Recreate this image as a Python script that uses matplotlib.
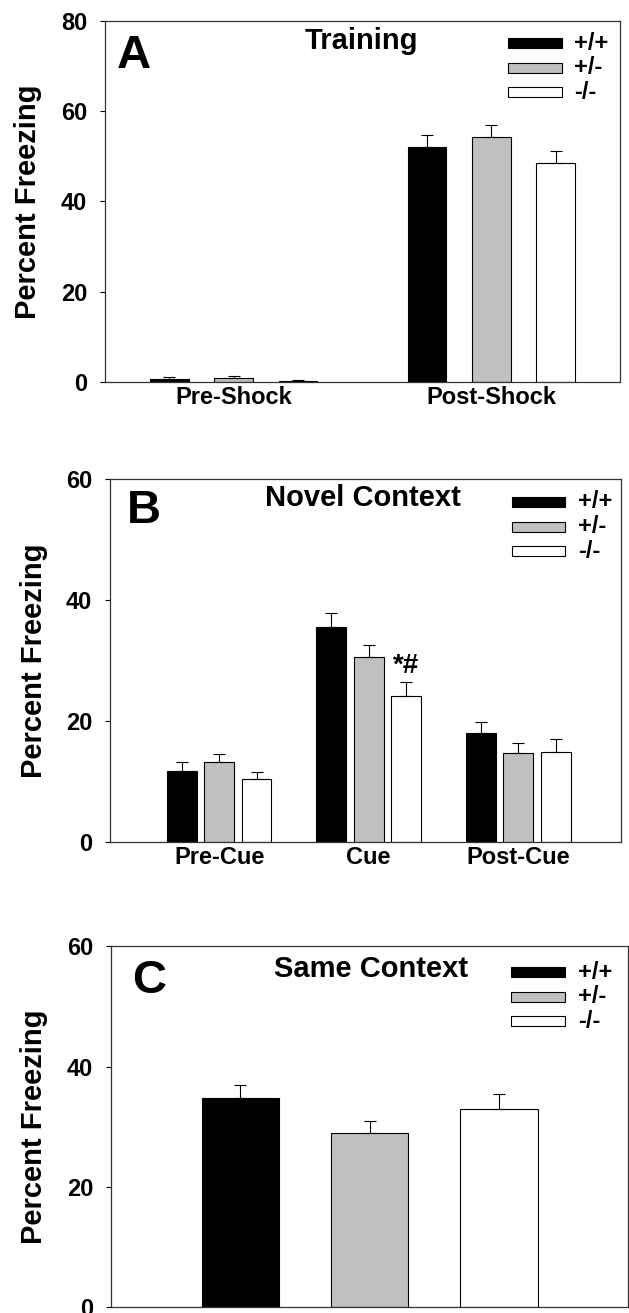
import numpy as np
import matplotlib
matplotlib.use('Agg')
import matplotlib.pyplot as plt
from matplotlib.patches import Rectangle

plt.rcParams['font.family'] = ['Liberation Sans', 'DejaVu Sans']
plt.rcParams['font.weight'] = 'bold'
plt.rcParams['axes.labelweight'] = 'bold'

genotypes = ['+/+', '+/-', '-/-']
bar_colors = ['black', '#c0c0c0', 'white']

# A - training
train_phases = ['Pre-Shock', 'Post-Shock']
train_wt = [0.6, 52.1]
train_het = [0.9, 54.3]
train_ko = [0.3, 48.6]
train_wt_sem = [0.4, 2.7]
train_het_sem = [0.5, 2.6]
train_ko_sem = [0.1, 2.6]

# B - novel context
novel_phases = ['Pre-Cue', 'Cue', 'Post-Cue']
novel_wt = [11.7, 35.5, 18.1]
novel_het = [13.3, 30.5, 14.7]
novel_ko = [10.4, 24.2, 14.8]
novel_wt_sem = [1.5, 2.3, 1.8]
novel_het_sem = [1.2, 2.1, 1.6]
novel_ko_sem = [1.1, 2.2, 2.2]

# C - same context
same_wt = [34.8]
same_het = [28.9]
same_ko = [33.0]
same_wt_sem = [2.1]
same_het_sem = [2.1]
same_ko_sem = [2.5]


def draw_panel(ax, centers, means, sems, width, xlim, ymax, step, xlabels,
               letter, letter_xy, title, title_xy, leg_x, leg_y):
    centers = np.asarray(centers, dtype=float)
    for i, (m, s) in enumerate(zip(means, sems)):
        x = centers + (i - 1)
        ax.bar(x, m, width=width, color=bar_colors[i], edgecolor='black',
               linewidth=0.8, zorder=2)
        ax.errorbar(x, m, yerr=[np.zeros(len(s)), s], fmt='none',
                    ecolor='black', elinewidth=0.8, capsize=4.3,
                    capthick=0.8, zorder=3)
    ax.set_xlim(*xlim)
    ax.set_ylim(0, ymax)
    ax.set_yticks(np.arange(0, ymax + 1, step))
    ax.set_xticks(centers if xlabels else [])
    if xlabels:
        ax.set_xticklabels(xlabels)
    ax.tick_params(axis='x', length=0, pad=3, labelsize=17)
    ax.tick_params(axis='y', direction='out', length=3.4, width=0.8,
                   pad=9.5, labelsize=17)
    for sp in ax.spines.values():
        sp.set_linewidth(0.9)
        sp.set_color('#333333')
    ax.set_ylabel('Percent Freezing', fontsize=21, fontweight='bold')
    ax.yaxis.set_label_coords(-0.122, 0.5)
    ax.text(letter_xy[0], letter_xy[1], letter, transform=ax.transAxes,
            fontsize=34, va='baseline', ha='left')
    ax.text(title_xy[0], title_xy[1], title, transform=ax.transAxes,
            fontsize=21, va='baseline', ha='center')
    # legend drawn as boxes + labels
    for i, g in enumerate(genotypes):
        yc = leg_y - i * 0.068
        ax.add_patch(Rectangle((leg_x, yc - 0.0139), 0.104, 0.0278,
                               transform=ax.transAxes, facecolor=bar_colors[i],
                               edgecolor='black', linewidth=0.8, clip_on=False))
        ax.text(leg_x + 0.129, yc, g, transform=ax.transAxes, fontsize=17,
                va='center', ha='left')


fig = plt.figure(figsize=(6.29, 13.13), dpi=100)
axA = fig.add_axes([0.1669, 0.7091, 0.8188, 0.2749])
axB = fig.add_axes([0.1749, 0.3587, 0.8124, 0.2765])
axC = fig.add_axes([0.1765, 0.0046, 0.8220, 0.2746])

draw_panel(axA, [2, 6], [train_wt, train_het, train_ko],
           [train_wt_sem, train_het_sem, train_ko_sem], 0.6, (0, 8), 80, 20,
           train_phases, 'A', (0.023, 0.870), 'Training', (0.497, 0.922),
           0.7825, 0.939)

draw_panel(axB, [3, 7, 11], [novel_wt, novel_het, novel_ko],
           [novel_wt_sem, novel_het_sem, novel_ko_sem], 0.8, (0.08, 13.75), 60, 20,
           novel_phases, 'B', (0.033, 0.879), 'Novel Context', (0.495, 0.926),
           0.7867, 0.9366)
# significance mark over the -/- cue bar
axB.text(7 + 1, novel_ko[1] + novel_ko_sem[1] + 0.6, '*#', fontsize=20,
         ha='center', va='bottom')

draw_panel(axC, [2], [same_wt, same_het, same_ko],
           [same_wt_sem, same_het_sem, same_ko_sem], 0.6, (0, 4), 60, 20,
           None, 'C', (0.041, 0.871), 'Same Context', (0.503, 0.915),
           0.774, 0.928)

fig.savefig('out.png', dpi=100)
